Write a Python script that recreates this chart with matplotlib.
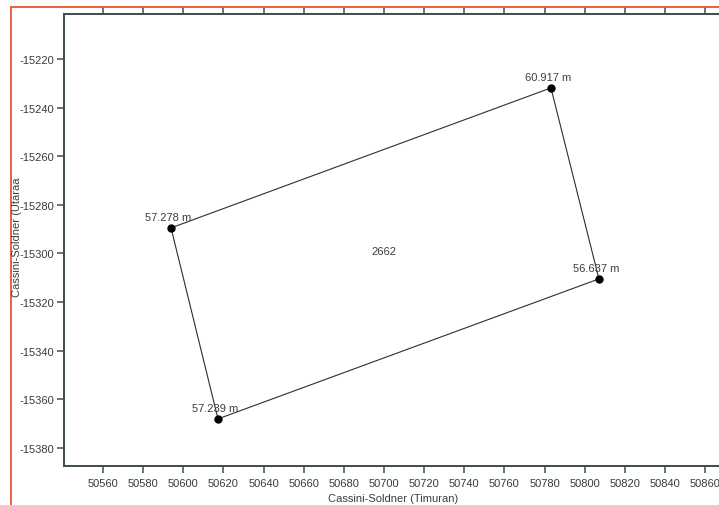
import matplotlib.pyplot as plt
from matplotlib.lines import Line2D

plt.rcParams['font.family'] = ['Liberation Sans', 'DejaVu Sans']
plt.rcParams['axes.unicode_minus'] = False

# parcel corner points (Cassini-Soldner coordinates)
east = [50783.2, 50807.1, 50617.3, 50593.9]
north = [-15231.9, -15310.5, -15368.1, -15289.5]
corner_labels = ["60.917 m", "56.637 m", "57.239 m", "57.278 m"]
lot_id = "2662"
lot_pos = (50700, -15299)

xticks = list(range(50560, 50861, 20))
yticks = list(range(-15380, -15219, 20))

W, H = 719, 506
fig = plt.figure(figsize=(W / 100, H / 100), dpi=100)

# axes reaches past the right edge of the picture
left_px, right_px, top_px, bot_px = 64, 730, 15, 467
ax = fig.add_axes([left_px / W, 1 - bot_px / H,
                   (right_px - left_px) / W, (bot_px - top_px) / H])

px_x = 2.007  # pixels per metre
px_y = 2.43
ax.set_xlim(50560 - (103 - left_px) / px_x, 50560 + (right_px - 103) / px_x)
ax.set_ylim(-15220 - (bot_px - 60) / px_y, -15220 + (60 - top_px) / px_y)

spine_col = "#3e4b52"
for s in ["left", "bottom", "top"]:
    ax.spines[s].set_color(spine_col)
    ax.spines[s].set_linewidth(1.4)
ax.spines["right"].set_visible(False)

ax.set_xticks(xticks)
ax.set_yticks(yticks)
ax.tick_params(axis="both", direction="out", length=5, width=1.1, color=spine_col,
               labelsize=8, labelcolor="#3a3a3a", pad=2)
ax.tick_params(axis="x", top=True, labeltop=False, pad=4)

xs = east + [east[0]]
ys = north + [north[0]]
ax.plot(xs, ys, color="#2a2f33", linewidth=0.8, zorder=2)
ax.plot(east, north, "o", color="black", markersize=5, zorder=3)

for x, y, lab in zip(east, north, corner_labels):
    ax.annotate(lab, (x, y), xytext=(-2, 4), textcoords="offset points",
                ha="center", va="bottom", fontsize=8, color="#3a3f44")

ax.text(lot_pos[0], lot_pos[1], lot_id, ha="center", va="center",
        fontsize=8, color="#3a3f44")

fig.text(393 / W, 1 - 499 / H, "Cassini-Soldner (Timuran)", ha="center",
         va="center", fontsize=8, color="#3a3f44")
fig.text(17 / W, 1 - 237 / H, "Cassini-Soldner (Utaraa", ha="center",
         va="center", rotation=90, fontsize=8, color="#3a3f44")

# orange frame of the original window
frame = "#f0502e"
fig.add_artist(Line2D([11 / W, 1], [1 - 8 / H, 1 - 8 / H], color=frame,
                      linewidth=1.3, transform=fig.transFigure))
fig.add_artist(Line2D([11 / W, 11 / W], [1 - 8 / H, 0], color=frame,
                      linewidth=1.3, transform=fig.transFigure))

fig.savefig("out.png", dpi=100)
